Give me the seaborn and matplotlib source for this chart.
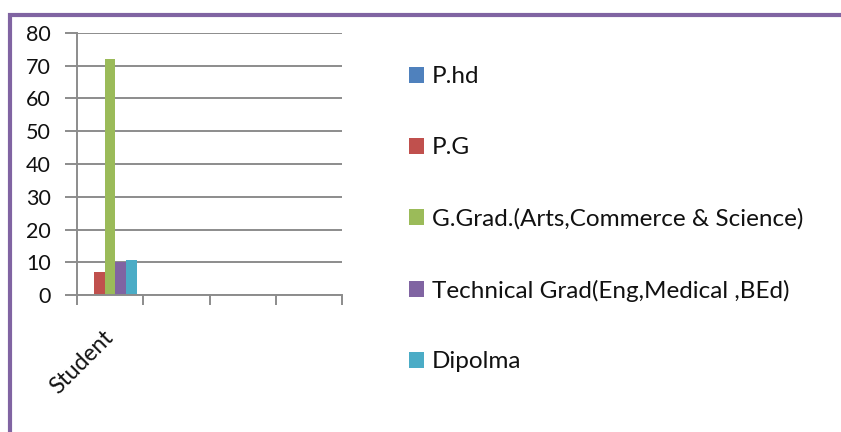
import pandas as pd
import matplotlib.pyplot as plt
import matplotlib.patches as patches
import seaborn as sns

# =========================================
# DATA
# =========================================

category = "Student"
series = [
    "P.hd",
    "P.G",
    "G.Grad.(Arts,Commerce & Science)",
    "Technical Grad(Eng,Medical ,BEd)",
    "Dipolma",
]
values = [0, 7, 72, 10, 10.7]
colors = ["#4F81BD", "#C0504D", "#9BBB59", "#8064A2", "#4BACC6"]
y_ticks = [0, 10, 20, 30, 40, 50, 60, 70, 80]
n_slots = 4

df = pd.DataFrame({
    "category": [category] * len(series),
    "series": series,
    "value": values,
})

# =========================================
# STYLE
# =========================================

sns.set_style("white")
plt.rcParams["font.family"] = ["Lato", "DejaVu Sans"]

fig = plt.figure(figsize=(8.41, 4.32), dpi=100)
ax = fig.add_axes([77 / 841, 1 - 295 / 432, 265 / 841, 262 / 432])

# =========================================
# BARS
# =========================================

sns.barplot(
    data=df,
    x="category",
    y="value",
    hue="series",
    hue_order=series,
    palette=colors,
    width=0.8,
    saturation=1,
    linewidth=0,
    legend=False,
    ax=ax,
)

ax.set_xlim(-0.5, n_slots - 0.5)
ax.set_ylim(0, 80)
ax.set_yticks(y_ticks)
ax.set_xlabel("")
ax.set_ylabel("")

grid_col = "#8C8C8C"
ax.yaxis.grid(True, color=grid_col, linewidth=1.4)
ax.set_axisbelow(True)

for side in ["top", "right"]:
    ax.spines[side].set_visible(False)
for side in ["left", "bottom"]:
    ax.spines[side].set_color(grid_col)
    ax.spines[side].set_linewidth(1.4)

ax.tick_params(axis="y", length=9, width=1.4, color=grid_col,
               labelsize=15.5, pad=10, left=True, labelcolor="#111111")
ax.set_xticks([0])
ax.set_xticklabels([category], rotation=45, ha="right", va="center",
                   rotation_mode="anchor", fontsize=16.5, color="#111111")
ax.tick_params(axis="x", which="major", length=0, pad=28)
ax.set_xticks([i - 0.5 for i in range(n_slots + 1)], minor=True)
ax.tick_params(axis="x", which="minor", length=7, width=1.4,
               color=grid_col, bottom=True)

# =========================================
# LEGEND
# =========================================

handles = [patches.Patch(facecolor=c, edgecolor="none", linewidth=0)
           for c in colors]

leg = ax.legend(
    handles,
    series,
    loc="center left",
    bbox_to_anchor=(409 / 841, 0.492),
    bbox_transform=fig.transFigure,
    frameon=False,
    fontsize=17.5,
    labelspacing=2.05,
    handlelength=0.62,
    handleheight=0.62,
    handletextpad=0.33,
    borderpad=0,
    borderaxespad=0,
    labelcolor="#111111",
)

# =========================================
# FRAME
# =========================================

frame = patches.Rectangle(
    (10 / 841, -0.1), 1.0, 1 - 15 / 432 + 0.1,
    transform=fig.transFigure, fill=False,
    edgecolor="#8064A2", linewidth=3, clip_on=False,
)
fig.patches.append(frame)

plt.savefig("out.png", dpi=100)
